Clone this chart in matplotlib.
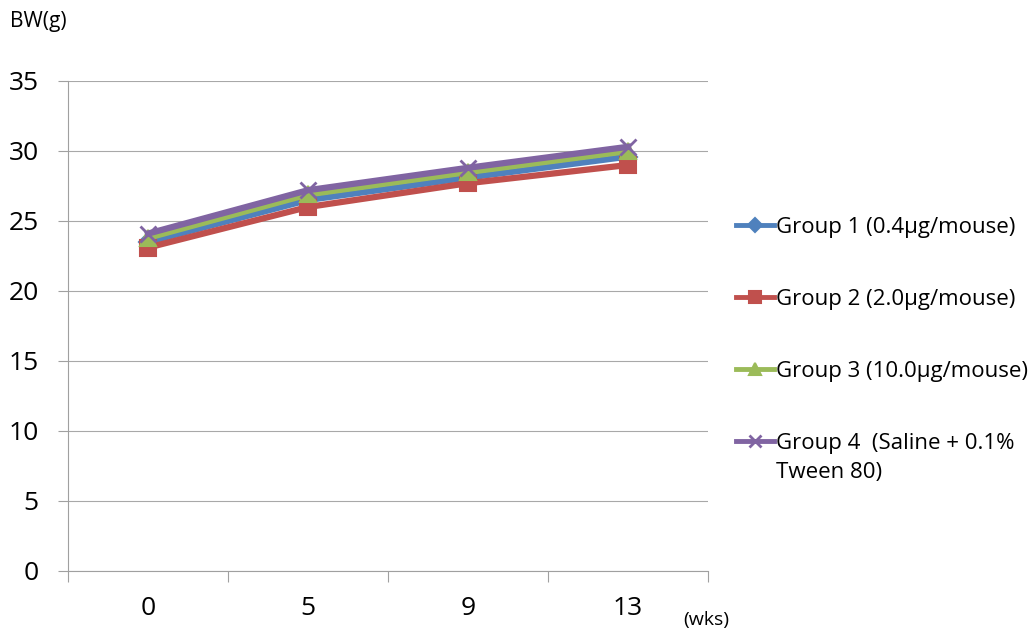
import matplotlib.pyplot as plt

plt.rcParams['font.family'] = ['Open Sans', 'DejaVu Sans']

weeks = ['0', '5', '9', '13']
group1 = [23.5, 26.5, 28.1, 29.6]
group2 = [23.1, 26.0, 27.7, 29.0]
group3 = [23.8, 26.9, 28.5, 30.0]
group4 = [24.1, 27.2, 28.8, 30.3]
labels = ['Group 1 (0.4\u00b5g/mouse)', 'Group 2 (2.0\u00b5g/mouse)',
          'Group 3 (10.0\u00b5g/mouse)', 'Group 4  (Saline + 0.1%\nTween 80)']

fig = plt.figure(figsize=(10.31, 6.34), dpi=100)
ax = fig.add_axes([68 / 1031, 1 - 571 / 634, 640 / 1031, 490 / 634])

x = range(len(weeks))
styles = [
    (group1, '#4F81BD', 'D', 9),
    (group2, '#C0504D', 's', 11),
    (group3, '#9BBB59', '^', 11),
    (group4, '#8064A2', 'x', 11),
]
for (vals, col, mk, ms), lab in zip(styles, labels):
    ax.plot(x, vals, color=col, lw=4.5, marker=mk, ms=ms,
            mec=col, mew=1.5 if mk != 'x' else 2, label=lab, zorder=3)

ax.set_xlim(-0.5, 3.5)
ax.set_ylim(0, 35)
ax.set_yticks(range(0, 36, 5))
ax.set_xticks(list(x))
ax.set_xticklabels(weeks)
ax.set_xticks([-0.5, 0.5, 1.5, 2.5, 3.5], minor=True)
ax.tick_params(axis='x', which='major', length=0, pad=18, labelsize=19)
ax.tick_params(axis='x', which='minor', length=8, color='#a0a0a0', width=0.8)
ax.tick_params(axis='y', length=7, color='#a0a0a0', width=0.8, pad=14, labelsize=19)
ax.yaxis.grid(True, color='#a8a8a8', lw=0.8)
ax.set_axisbelow(True)
for s in ['top', 'right']:
    ax.spines[s].set_visible(False)
for s in ['left', 'bottom']:
    ax.spines[s].set_color('#a0a0a0')
    ax.spines[s].set_linewidth(0.8)

fig.text(10 / 1031, 1 - 22 / 634, 'BW(g)', fontsize=15, va='center', ha='left')
fig.text(683 / 1031, 1 - 620 / 634, '(wks)', fontsize=14, va='center', ha='left')

leg = ax.legend(loc='upper left', bbox_to_anchor=(736 / 1031, 1 - 217 / 634),
                bbox_transform=fig.transFigure, frameon=False, fontsize=16,
                handlelength=1.7, handletextpad=0.1, labelspacing=2.3,
                borderaxespad=0, borderpad=0, markerscale=0.8)
for h in leg.legend_handles:
    h.set_linewidth(3.5)
leg.get_texts()[3].set_linespacing(1.45)
# keep each handle level with the first line of its label
for col in leg._legend_handle_box.get_children():
    for row in col.get_children():
        row.align = 'top'

fig.savefig('out.png', dpi=100)
